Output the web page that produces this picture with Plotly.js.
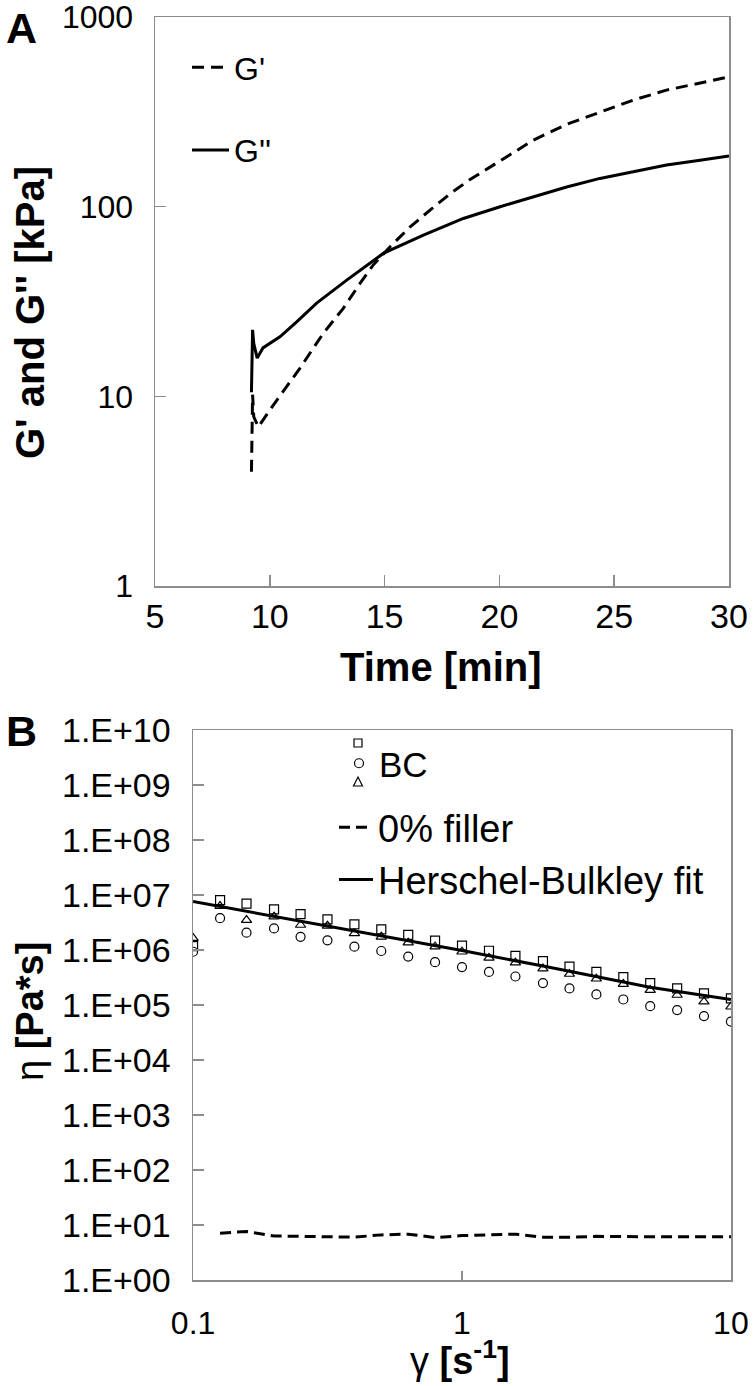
<!DOCTYPE html>
<html>
<head>
<meta charset="utf-8">
<script src="https://cdn.plot.ly/plotly-3.0.1.min.js"></script>
<style>html,body{margin:0;padding:0;background:#fff;}#chart{width:754px;height:1386px;}</style>
</head>
<body>
<div id="chart"></div>
<script>
// ---------- Panel A data ----------
const timeGp = [9.2, 9.22, 9.25, 9.3, 9.5, 10.1, 11.3, 12.33, 13.2, 13.93, 14.5, 15.24, 16.1, 16.98, 17.85, 18.72, 19.59, 20.46, 21.47, 22.93, 24.38, 25.83, 27.28, 28.74, 30];
const gPrime = [4.0, 6.5, 10.2, 7.8, 6.9, 8.8, 14, 21.5, 29.1, 39.4, 49.2, 61.5, 78, 96, 117, 139, 162, 188, 224, 272, 316, 365, 412, 447, 484];
const timeGpp = [9.2, 9.22, 9.25, 9.3, 9.45, 9.7, 10.44, 11.17, 12.04, 13.35, 14.94, 16.69, 18.43, 20.03, 21.47, 22.93, 24.38, 25.83, 27.28, 28.74, 30];
const gDoublePrime = [10.5, 16, 22.4, 19, 15.9, 18, 20.6, 24.7, 31, 41, 56.7, 70.8, 86.7, 100, 113, 127, 141, 153, 166, 176, 185];
const timeTicks = [5, 10, 15, 20, 25, 30];
const modulusTicks = [1, 10, 100, 1000];
const modulusTickText = ['1', '10', '100', '1000'];

// ---------- Panel B data ----------
const shearRate = [0.1, 0.126, 0.158, 0.2, 0.251, 0.316, 0.398, 0.501, 0.631, 0.794, 1, 1.26, 1.58, 2, 2.51, 3.16, 3.98, 5.01, 6.31, 7.94, 10];
const bcSquare = [1.18e6, 8.1e6, 7.0e6, 5.5e6, 4.5e6, 3.6e6, 2.93e6, 2.38e6, 1.88e6, 1.48e6, 1.2e6, 9.7e5, 7.8e5, 6.3e5, 5.0e5, 4.0e5, 3.2e5, 2.5e5, 2.0e5, 1.63e5, 1.32e5];
const bcCircle = [9.3e5, 3.8e6, 2.07e6, 2.47e6, 1.74e6, 1.5e6, 1.15e6, 9.6e5, 7.6e5, 6.0e5, 4.9e5, 4.0e5, 3.3e5, 2.5e5, 2.0e5, 1.56e5, 1.26e5, 9.5e4, 8.1e4, 6.3e4, 5.0e4];
const bcTriangle = [1.65e6, 6.3e6, 3.5e6, 4.05e6, 2.85e6, 2.75e6, 2.0e6, 1.74e6, 1.36e6, 1.15e6, 9.3e5, 7.2e5, 5.9e5, 4.6e5, 3.66e5, 3.0e5, 2.4e5, 1.87e5, 1.52e5, 1.15e5, 9.3e4];
const fillerRate = [0.126, 0.158, 0.2, 0.251, 0.316, 0.398, 0.501, 0.631, 0.794, 1, 1.26, 1.58, 2, 2.51, 3.16, 3.98, 5.01, 6.31, 7.94, 10];
const fillerEta = [7.1, 7.6, 6.3, 6.2, 6.1, 6.0, 6.6, 6.8, 5.9, 6.4, 6.6, 6.8, 6.0, 6.0, 6.2, 6.1, 6.1, 6.1, 6.1, 6.1];
const hbRate = [0.1, 0.2, 0.5, 1, 2, 5, 10];
const hbEta = [7.6e6, 4.1e6, 1.87e6, 9.8e5, 5.1e5, 2.1e5, 1.26e5];
const rateTicks = [0.1, 1, 10];
const rateTickText = ['0.1', '1', '10'];
const etaTicks = [1, 10, 1e2, 1e3, 1e4, 1e5, 1e6, 1e7, 1e8, 1e9, 1e10];
const etaTickText = ['1.E+00', '1.E+01', '1.E+02', '1.E+03', '1.E+04', '1.E+05', '1.E+06', '1.E+07', '1.E+08', '1.E+09', '1.E+10'];

// ---------- geometry helpers ----------
const W = 754, H = 1386;
const px = v => v / W;
const py = v => 1 - v / H;
const FONT = 'Liberation Sans, Arial, sans-serif';
const AXC = '#8c8c8c';

const traces = [
  {x: timeGp, y: gPrime, xaxis: 'x', yaxis: 'y', mode: 'lines', name: "G'", legend: 'legend', legendgroup: 'a',
   line: {color: '#000', width: 3, dash: '12px,7px'}},
  {x: timeGpp, y: gDoublePrime, xaxis: 'x', yaxis: 'y', mode: 'lines', name: "G''", legend: 'legend', legendgroup: 'b',
   line: {color: '#000', width: 3}},
  {x: shearRate, y: bcSquare, xaxis: 'x2', yaxis: 'y2', mode: 'markers', name: 'BC', showlegend: false,
   marker: {symbol: 'square-open', size: 9, color: '#000', line: {width: 1.2}}},
  {x: shearRate, y: bcCircle, xaxis: 'x2', yaxis: 'y2', mode: 'markers', name: 'BC', legend: 'legend3',
   marker: {symbol: 'circle-open', size: 9, color: '#000', line: {width: 1.2}}},
  {x: shearRate, y: bcTriangle, xaxis: 'x2', yaxis: 'y2', mode: 'markers', name: 'BC', showlegend: false,
   marker: {symbol: 'triangle-up-open', size: 9, color: '#000', line: {width: 1.2}}},
  {x: fillerRate, y: fillerEta, xaxis: 'x2', yaxis: 'y2', mode: 'lines', name: '0% filler', legend: 'legend2',
   line: {color: '#000', width: 3, dash: '11px,6px'}},
  {x: hbRate, y: hbEta, xaxis: 'x2', yaxis: 'y2', mode: 'lines', name: 'Herschel-Bulkley fit', legend: 'legend2',
   line: {color: '#000', width: 3}}
];

const axisCommon = {
  showline: true, linecolor: AXC, linewidth: 1.5, mirror: true,
  ticks: 'inside', ticklen: 11, tickwidth: 1.5, tickcolor: AXC,
  showgrid: false, zeroline: false, fixedrange: true, ticklabeloverflow: 'allow'
};

// legend glyphs for the square / triangle BC series, stacked around the circle entry
const bcX = 358, bcSqY = 743, bcTriY = 782, g = 4;
const legendGlyphs = [
  {type: 'rect', xref: 'paper', yref: 'paper', x0: px(bcX - g), x1: px(bcX + g), y0: py(bcSqY + g), y1: py(bcSqY - g),
   line: {color: '#000', width: 1.2}, fillcolor: 'rgba(0,0,0,0)'},
  {type: 'path', xref: 'paper', yref: 'paper',
   path: 'M' + px(bcX - g - 0.5) + ',' + py(bcTriY + g) + ' L' + px(bcX + g + 0.5) + ',' + py(bcTriY + g) + ' L' + px(bcX) + ',' + py(bcTriY - g - 1) + ' Z',
   line: {color: '#000', width: 1.2}, fillcolor: 'rgba(0,0,0,0)'}
];

const layout = {
  width: W, height: H,
  margin: {l: 0, r: 0, t: 0, b: 0},
  paper_bgcolor: '#fff', plot_bgcolor: '#fff',
  font: {family: FONT, color: '#000'},
  showlegend: true,
  xaxis: Object.assign({}, axisCommon, {
    domain: [px(155), px(729)], anchor: 'y', range: [4.999, 30.001],
    tickmode: 'array', tickvals: timeTicks, ticktext: timeTicks.map(String),
    tickfont: {family: FONT, size: 34, color: '#000'}, ticklabelstandoff: 0
  }),
  yaxis: Object.assign({}, axisCommon, {
    domain: [py(586), py(17)], anchor: 'x', type: 'log', range: [-0.0005, 3.0005],
    tickmode: 'array', tickvals: modulusTicks, ticktext: modulusTickText,
    tickfont: {family: FONT, size: 32, color: '#000'}, ticklabelstandoff: 14
  }),
  xaxis2: Object.assign({}, axisCommon, {
    domain: [px(193), px(731)], anchor: 'y2', type: 'log', range: [-1.0003, 1.0003],
    tickmode: 'array', tickvals: rateTicks, ticktext: rateTickText, ticklen: 9,
    tickfont: {family: FONT, size: 32, color: '#000'}, ticklabelstandoff: 14
  }),
  yaxis2: Object.assign({}, axisCommon, {
    domain: [py(1280), py(730)], anchor: 'x2', type: 'log', range: [-0.001, 10.001],
    tickmode: 'array', tickvals: etaTicks, ticktext: etaTickText,
    tickfont: {family: FONT, size: 34, color: '#000'}, ticklabelstandoff: 14
  }),
  legend: {
    x: px(187), y: py(40), xanchor: 'left', yanchor: 'top', itemwidth: 37,
    bgcolor: 'rgba(0,0,0,0)', borderwidth: 0, tracegroupgap: 38,
    font: {family: FONT, size: 32, color: '#000'}, itemclick: false, itemdoubleclick: false
  },
  legend2: {
    x: px(334), y: py(796), xanchor: 'left', yanchor: 'top', itemwidth: 34,
    bgcolor: 'rgba(0,0,0,0)', borderwidth: 0,
    font: {family: FONT, size: 38, color: '#000'}, itemclick: false, itemdoubleclick: false
  },
  legend3: {
    x: px(339), y: py(734), xanchor: 'left', yanchor: 'top',
    bgcolor: 'rgba(0,0,0,0)', borderwidth: 0,
    font: {family: FONT, size: 35, color: '#000'}, itemclick: false, itemdoubleclick: false
  },
  shapes: legendGlyphs,
  annotations: [
    {text: '<b>A</b>', x: px(4), y: py(28), xref: 'paper', yref: 'paper', xanchor: 'left', yanchor: 'middle',
     showarrow: false, font: {family: FONT, size: 43, color: '#000'}},
    {text: '<b>B</b>', x: px(4), y: py(731), xref: 'paper', yref: 'paper', xanchor: 'left', yanchor: 'middle',
     showarrow: false, font: {family: FONT, size: 43, color: '#000'}},
    {text: '<b>Time [min]</b>', x: px(441), y: py(667), xref: 'paper', yref: 'paper', xanchor: 'center', yanchor: 'middle',
     showarrow: false, font: {family: FONT, size: 40, color: '#000'}},
    {text: "<b>G' and G'' [kPa]</b>", x: px(30), y: py(313), xref: 'paper', yref: 'paper', xanchor: 'center', yanchor: 'middle',
     textangle: -90, showarrow: false, font: {family: FONT, size: 40, color: '#000'}},
    {text: 'η <b>[Pa*s]</b>', x: px(30), y: py(1012), xref: 'paper', yref: 'paper', xanchor: 'center', yanchor: 'middle',
     textangle: -90, showarrow: false, font: {family: FONT, size: 38, color: '#000'}},
    {text: 'γ <b>[s<sup>-1</sup>]</b>', x: px(460), y: py(1358), xref: 'paper', yref: 'paper', xanchor: 'center', yanchor: 'middle',
     showarrow: false, font: {family: FONT, size: 38, color: '#000'}}
  ]
};

Plotly.newPlot('chart', traces, layout, {displayModeBar: false, staticPlot: true});
</script>
</body>
</html>
